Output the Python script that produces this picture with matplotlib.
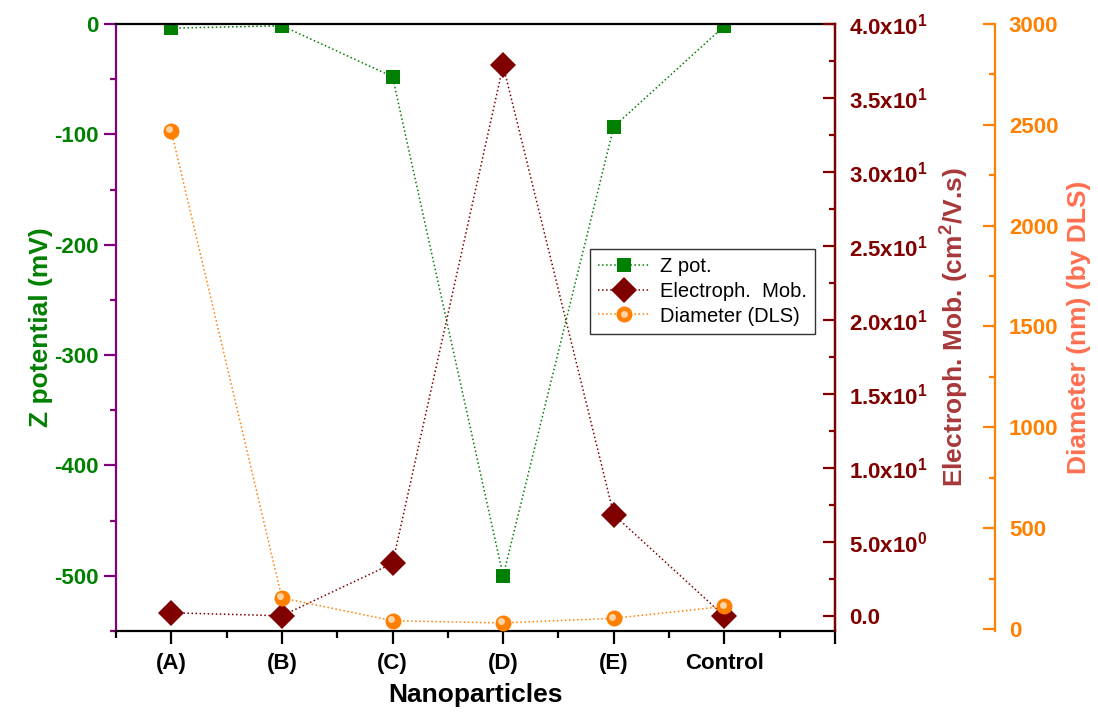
import matplotlib
matplotlib.use("Agg")
import matplotlib.pyplot as plt
from matplotlib.ticker import MultipleLocator, FixedLocator, FuncFormatter
from matplotlib.transforms import offset_copy
from matplotlib.legend_handler import HandlerTuple

categories = ["(A)", "(B)", "(C)", "(D)", "(E)", "Control"]
z_potential = [-3.8, -1.6, -47.7, -500.0, -93.0, -1.8]      # mV
mobility = [0.23, 0.03, 3.56, 37.2, 6.86, 0.0]              # cm2/V.s
diameter = [2469, 154, 41, 30, 53, 112]                     # nm (DLS)

C_Z = "#008000"
C_ZSPINE = "#800080"
C_MOB = "#800000"
C_MOB_LABEL = "#A8383A"
C_DIAM = "#FF8000"
C_DIAM_LABEL = "#FF6F50"

plt.rcParams.update({
    "font.family": ["Liberation Sans", "DejaVu Sans"],
    "font.weight": "bold",
    "axes.linewidth": 1.6,
    "axes.unicode_minus": False,
})

x = list(range(1, len(categories) + 1))

fig = plt.figure(figsize=(10.98, 7.16), dpi=100)
ax = fig.add_axes([0.1056, 0.1187, 0.6549, 0.8478])
ax2 = ax.twinx()
ax3 = ax.twinx()

# ---- Z potential (host axis) ----
l1, = ax.plot(x, z_potential, ":", color=C_Z, linewidth=1.1,
              marker="s", markersize=9.5, markeredgewidth=0, label="Z pot.")
ax.set_xlim(0.5, 7)
ax.set_ylim(-550, 0)
ax.yaxis.set_major_locator(MultipleLocator(100))
ax.yaxis.set_minor_locator(MultipleLocator(50))
ax.xaxis.set_major_locator(FixedLocator(x + [7]))
ax.xaxis.set_minor_locator(FixedLocator([0.5 + i for i in range(7)]))
ax.set_xticklabels(categories + [""])
ax.tick_params(axis="x", which="major", direction="out", length=9, width=1.6,
               labelsize=16, pad=7)
ax.tick_params(axis="x", which="minor", direction="out", length=5, width=1.6)
ax.tick_params(axis="y", which="major", direction="out", length=9, width=1.6,
               color=C_ZSPINE, labelcolor=C_Z, labelsize=16)
ax.tick_params(axis="y", which="minor", direction="out", length=4.5, width=1.6,
               color=C_ZSPINE)
ax.spines["left"].set_color(C_ZSPINE)
ax.set_xlabel("Nanoparticles", fontsize=19, fontweight="bold", labelpad=6)
ax.set_ylabel("Z potential (mV)", fontsize=19, fontweight="bold", color=C_Z)
ax.yaxis.set_label_coords(-0.0876, 0.5)

# ---- Electrophoretic mobility ----
l2, = ax2.plot(x, mobility, ":", color=C_MOB, linewidth=1.1,
               marker="D", markersize=13, markeredgewidth=0,
               label="Electroph.  Mob.")
ax2.set_ylim(-1, 40)
ax2.yaxis.set_major_locator(MultipleLocator(5))
ax2.yaxis.set_minor_locator(MultipleLocator(2.5))


def mob_fmt(v, pos):
    if abs(v) < 1e-9:
        return "0.0"
    e = 0
    m = v
    while m >= 10:
        m /= 10
        e += 1
    return r"$\mathregular{%.1fx10^{%d}}$" % (m, e)


ax2.yaxis.set_major_formatter(FuncFormatter(mob_fmt))
ax2.tick_params(axis="y", which="major", direction="in", length=9, width=1.6,
                color=C_MOB, labelcolor=C_MOB, labelsize=16, pad=10)
ax2.tick_params(axis="y", which="minor", direction="in", length=4.5, width=1.6,
                color=C_MOB)
ax2.spines["right"].set_color(C_MOB)
ax2.set_ylabel(r"Electroph. Mob. (cm$\mathregular{^2}$/V.s)", fontsize=19,
               fontweight="bold", color=C_MOB_LABEL)
ax2.yaxis.set_label_coords(1.145, 0.5)

# ---- Diameter (DLS) ----
l3, = ax3.plot(x, diameter, ":", color=C_DIAM, linewidth=1.1,
               marker="o", markersize=11.5, markeredgewidth=0,
               label="Diameter (DLS)")
shine = offset_copy(ax3.transData, fig=fig, x=-1.3, y=1.3, units="points")
hl, = ax3.plot(x, diameter, "o", color="#FFE2C4", markersize=5, alpha=0.85,
               markeredgewidth=0, transform=shine)
ax3.set_ylim(-10, 3000)
ax3.yaxis.set_major_locator(MultipleLocator(500))
ax3.yaxis.set_minor_locator(MultipleLocator(250))
ax3.spines["right"].set_position(("axes", 1.2225))
ax3.spines["right"].set_color(C_DIAM)
ax3.tick_params(axis="y", which="major", direction="in", length=9, width=1.6,
                color=C_DIAM, labelcolor=C_DIAM, labelsize=16, pad=10)
ax3.tick_params(axis="y", which="minor", direction="in", length=4.5, width=1.6,
                color=C_DIAM)
ax3.set_ylabel("Diameter (nm) (by DLS)", fontsize=19, fontweight="bold",
               color=C_DIAM_LABEL)
ax3.yaxis.set_label_coords(1.322, 0.5)

for a in (ax2, ax3):
    a.spines["left"].set_visible(False)
    a.spines["top"].set_visible(False)
    a.spines["bottom"].set_visible(False)

leg = ax3.legend([l1, l2, (l3, hl)], ["Z pot.", "Electroph.  Mob.", "Diameter (DLS)"],
                 handler_map={tuple: HandlerTuple(ndivide=1, pad=0)},
                 loc="upper left", bbox_to_anchor=(0.659, 0.629),
                 borderaxespad=0, fancybox=False, framealpha=1,
                 edgecolor="#333333", handlelength=2.6, handletextpad=0.5,
                 labelspacing=0.28, borderpad=0.4,
                 prop={"size": 14.5, "weight": "normal"})
leg.get_frame().set_linewidth(1.0)

fig.savefig("out.png", dpi=100)
